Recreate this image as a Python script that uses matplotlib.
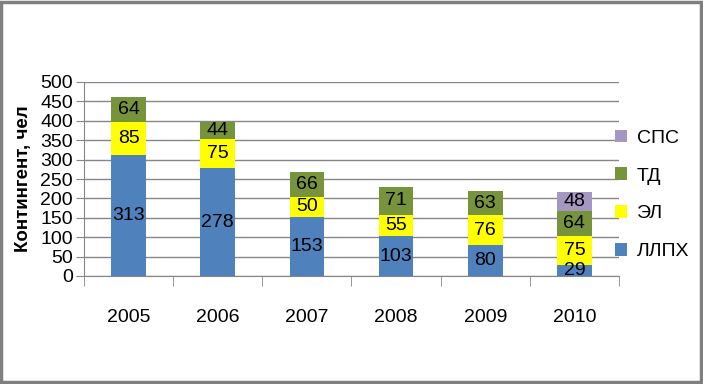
import numpy as np
import matplotlib.pyplot as plt
from matplotlib.patches import Rectangle

years = ['2005', '2006', '2007', '2008', '2009', '2010']
series = ['ЛЛПХ', 'ЭЛ', 'ТД', 'СПС']
llph = [313, 278, 153, 103, 80, 29]
el = [85, 75, 50, 55, 76, 75]
td = [64, 44, 66, 71, 63, 64]
sps = [0, 0, 0, 0, 0, 48]
colors = ['#4F81BD', '#FFFF00', '#77933C', '#A598C0']

plt.rcParams['font.family'] = ['Liberation Sans', 'DejaVu Sans']
fs = 14
fig = plt.figure(figsize=(7.03, 3.84), dpi=100)
ax = fig.add_axes([84/703, 1-276/384, 535/703, 194/384])

x = np.arange(len(years))
bottom = np.zeros(len(years))
handles = []
for name, vals, c in zip(series, [llph, el, td, sps], colors):
    vals = np.array(vals)
    b = ax.bar(x, vals, 0.39, bottom=bottom, color=c, zorder=3, label=name)
    handles.append(b)
    for xi, v, bt in zip(x, vals, bottom):
        if v > 0:
            ax.text(xi, bt + v/2, str(v), ha='center', va='center', fontsize=fs, zorder=4)
    bottom += vals

ax.set_xlim(-0.5, len(years) - 0.5)
ax.set_ylim(0, 500)
ax.set_yticks(range(0, 501, 50))
ax.tick_params(axis='y', labelsize=fs, length=6, color='#868686', pad=2)
ax.grid(axis='y', color='#868686', linewidth=1, zorder=0)
ax.set_xticks(x)
ax.set_xticklabels(years)
ax.set_xticks(np.arange(-0.5, len(years)), minor=True)
ax.tick_params(axis='x', which='major', length=0, labelsize=fs, pad=24)
ax.tick_params(axis='x', which='minor', length=7, color='#868686')
for s in ['top', 'right']:
    ax.spines[s].set_visible(False)
ax.spines['left'].set_color('#868686')
ax.spines['bottom'].set_color('#868686')
ax.set_ylabel('Контингент, чел', fontsize=13.5, fontweight='bold', labelpad=6)

leg = fig.legend(handles[::-1], series[::-1], loc='upper left', bbox_to_anchor=(597/703, 1-112/384),
                 frameon=False, fontsize=fs, handlelength=0.65, handleheight=0.65,
                 handletextpad=0.5, labelspacing=1.05)

fig.add_artist(Rectangle((0.002, 0.004), 0.995, 0.992, transform=fig.transFigure,
                         fill=False, edgecolor='#7F7F7F', linewidth=2.5))
fig.savefig('out.png', dpi=100)
